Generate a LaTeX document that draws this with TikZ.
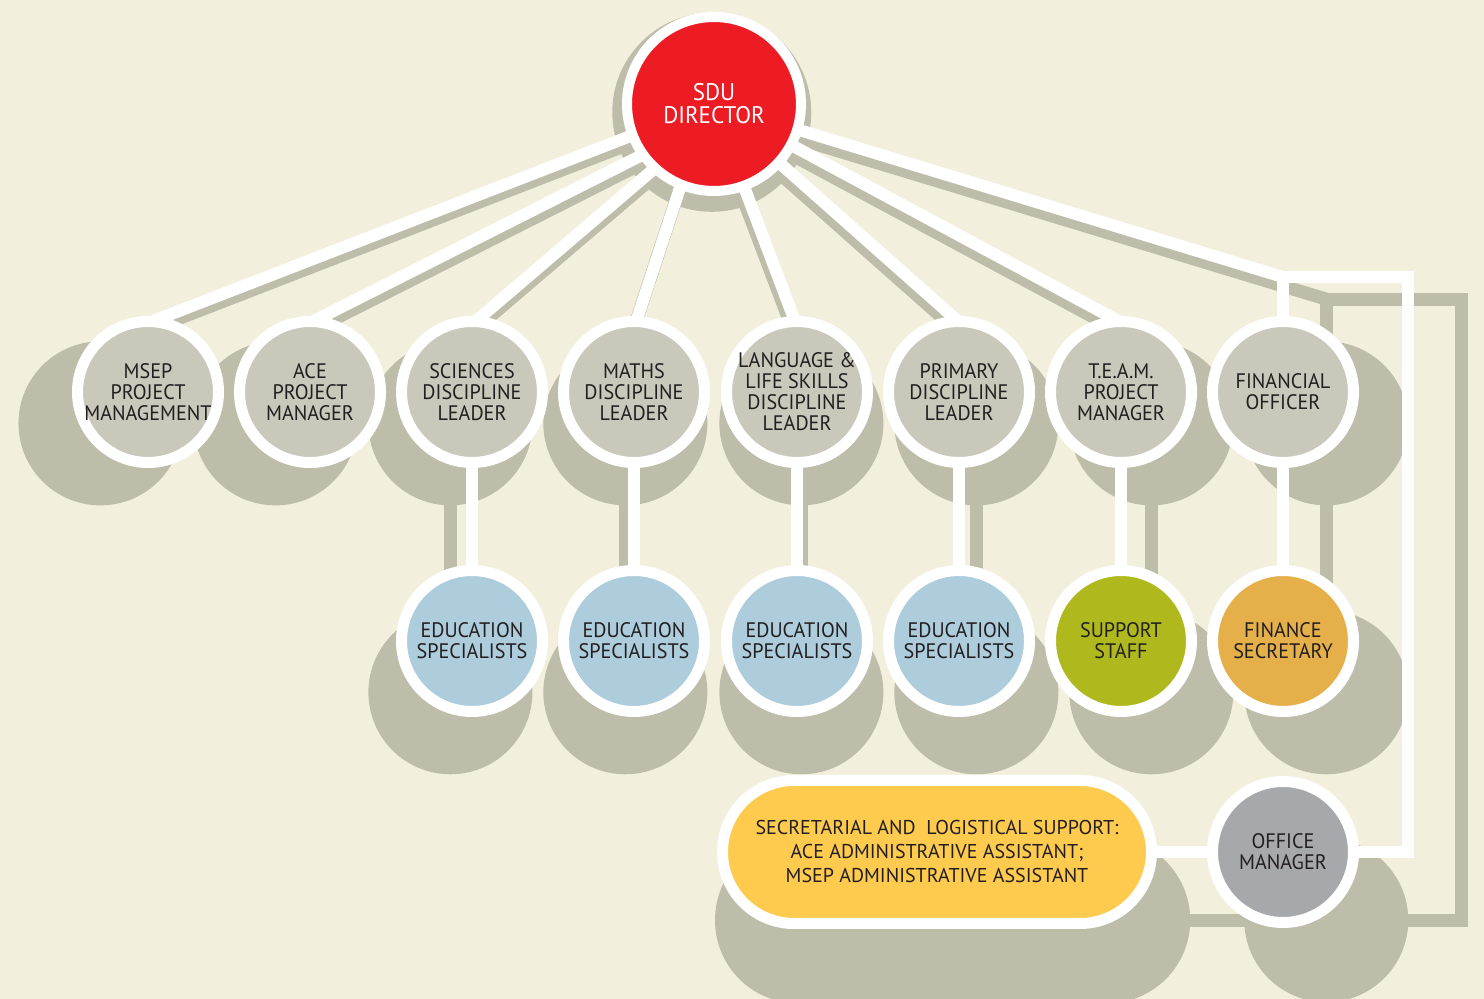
\documentclass[tikz,border=0pt]{standalone}
\usepackage{fontspec}
\setmainfont{PT Sans}[FakeStretch=0.96]
\newfontfamily\pillfont{PT Sans}
\usetikzlibrary{calc, positioning}

\definecolor{paper}{HTML}{F2EFDC}
\definecolor{shadowgray}{HTML}{BEBDAA}
\definecolor{leadgray}{HTML}{C9C8BA}
\definecolor{specblue}{HTML}{ADCCDC}
\definecolor{staffgreen}{HTML}{AFB91E}
\definecolor{finorange}{HTML}{E5B04A}
\definecolor{pillyellow}{HTML}{FECB4F}
\definecolor{officegray}{HTML}{A7A8AC}
\definecolor{sdured}{HTML}{ED1C24}
\definecolor{ink}{HTML}{231F20}

\pgfdeclarelayer{shadows}
\pgfdeclarelayer{links}
\pgfsetlayers{shadows,links,main}

\begin{document}
\begin{tikzpicture}[x=1pt, y=1pt,
      unit/.style={circle, draw=white, line width=11pt, minimum size=141pt, inner sep=-8pt, align=center, text=ink, font=\fontsize{21}{21}\selectfont},
      leader/.style={unit, fill=leadgray},
      specialist/.style={unit, fill=specblue},
      wire/.style={draw=white, line width=12pt},
      shadowwire/.style={draw=shadowgray, line width=13pt},
      ]
      \useasboundingbox (0,0) rectangle (1484,999);
      \begin{pgfonlayer}{shadows}
        \fill[paper] (0,0) rectangle (1484,999);
      \end{pgfonlayer}

      %Nodes
      \node[unit, fill=sdured, line width=10pt, minimum size=174pt, text=white, font=\fontsize{24}{23}\selectfont] (dir) at (714,895) {SDU\\DIRECTOR};

      \node[leader] (msep) at (148,607) {MSEP\\PROJECT\\MANAGEMENT};
      \node[leader, right=10pt of msep] (ace) {ACE\\PROJECT\\MANAGER};
      \node[leader, right=10pt of ace] (sci) {SCIENCES\\DISCIPLINE\\LEADER};
      \node[leader, right=10pt of sci] (maths) {MATHS\\DISCIPLINE\\LEADER};
      \node[leader, right=11pt of maths] (lang) {LANGUAGE \&\\LIFE SKILLS\\DISCIPLINE\\LEADER};
      \node[leader, right=10pt of lang] (prim) {PRIMARY\\DISCIPLINE\\LEADER};
      \node[leader, right=10pt of prim] (team) {T.E.A.M.\\PROJECT\\MANAGER};
      \node[leader, right=10pt of team] (fin) {FINANCIAL\\OFFICER};

      \node[specialist, below=97pt of sci] (edu1) {EDUCATION\\SPECIALISTS};
      \node[specialist, below=97pt of maths] (edu2) {EDUCATION\\SPECIALISTS};
      \node[specialist, below=97pt of lang] (edu3) {EDUCATION\\SPECIALISTS};
      \node[specialist, below=97pt of prim] (edu4) {EDUCATION\\SPECIALISTS};
      \node[unit, fill=staffgreen, below=97pt of team] (staff) {SUPPORT\\STAFF};
      \node[unit, fill=finorange, below=97pt of fin] (finsec) {FINANCE\\SECRETARY};

      \node[unit, fill=officegray, below=59pt of finsec] (office) {OFFICE\\MANAGER};
      \node[rectangle, rounded corners=71.5pt, draw=white, line width=11pt, fill=pillyellow,
            minimum width=429pt, minimum height=143pt, align=center, text=ink,
            font=\pillfont\fontsize{20}{24}\selectfont, left=50pt of office] (pill)
            {SECRETARIAL AND~~LOGISTICAL SUPPORT:\\ACE ADMINISTRATIVE ASSISTANT;\\MSEP ADMINISTRATIVE ASSISTANT};

      \coordinate (light) at (742,999);
      \coordinate[above=39pt of fin] (corner);
      \coordinate (elbow) at ($(corner)+(125,0)$);
      \coordinate (foot) at (elbow |- office);

      %Lines from the director
      \foreach \a/\n/\b in {201/msep/79, 215/ace/81, 227/sci/83, 248/maths/87, 290/lang/93, 318/prim/95, 332/team/98}{
        \begin{pgfonlayer}{links}
          \draw[wire, shorten <=-15pt, shorten >=-15pt] (dir.\a) -- (\n.\b);
        \end{pgfonlayer}
        \begin{pgfonlayer}{shadows}
          \draw[shadowwire, shorten <=-15pt, shorten >=-15pt] ($(light)!1.08!(dir.\a)$) -- ($(light)!1.08!(\n.\b)$);
        \end{pgfonlayer}
      }

      %Lines down to the staff
      \foreach \p/\c in {sci/edu1, maths/edu2, lang/edu3, prim/edu4, team/staff, fin/finsec, pill/office}{
        \begin{pgfonlayer}{links}
          \draw[wire] (\p) -- (\c);
        \end{pgfonlayer}
        \begin{pgfonlayer}{shadows}
          \draw[shadowwire] ($(light)!1.08!(\p)$) -- ($(light)!1.08!(\c)$);
        \end{pgfonlayer}
      }

      %Finance branch and office loop
      \begin{pgfonlayer}{links}
        \draw[wire, shorten <=-15pt] (dir.343) -- (corner);
        \draw[wire] (fin) -- (corner) -- (elbow) -- (foot) -- (office);
      \end{pgfonlayer}

      %Shadows
      \begin{pgfonlayer}{shadows}
        \draw[shadowwire, shorten <=-15pt] ($(light)!1.08!(dir.343)$) -- ($(light)!1.08!(corner)$);
        \draw[shadowwire] ($(light)!1.08!(fin)$) -- ($(light)!1.08!(corner)$) -- ($(light)!1.08!(elbow)$)
          -- ($(light)!1.08!(foot)$) -- ($(light)!1.08!(office)$);
        \foreach \n in {msep, ace, sci, maths, lang, prim, team, fin, edu1, edu2, edu3, edu4, staff, finsec, office}
          \fill[shadowgray] ($(light)!1.08!(\n)$) circle (82pt);
        \fill[shadowgray] ($(light)!1.08!(dir)$) circle (99.5pt);
        \fill[shadowgray, rounded corners=83pt] ($(light)!1.08!(pill.south west)$) rectangle ($(light)!1.08!(pill.north east)$);
      \end{pgfonlayer}
\end{tikzpicture}
\end{document}
